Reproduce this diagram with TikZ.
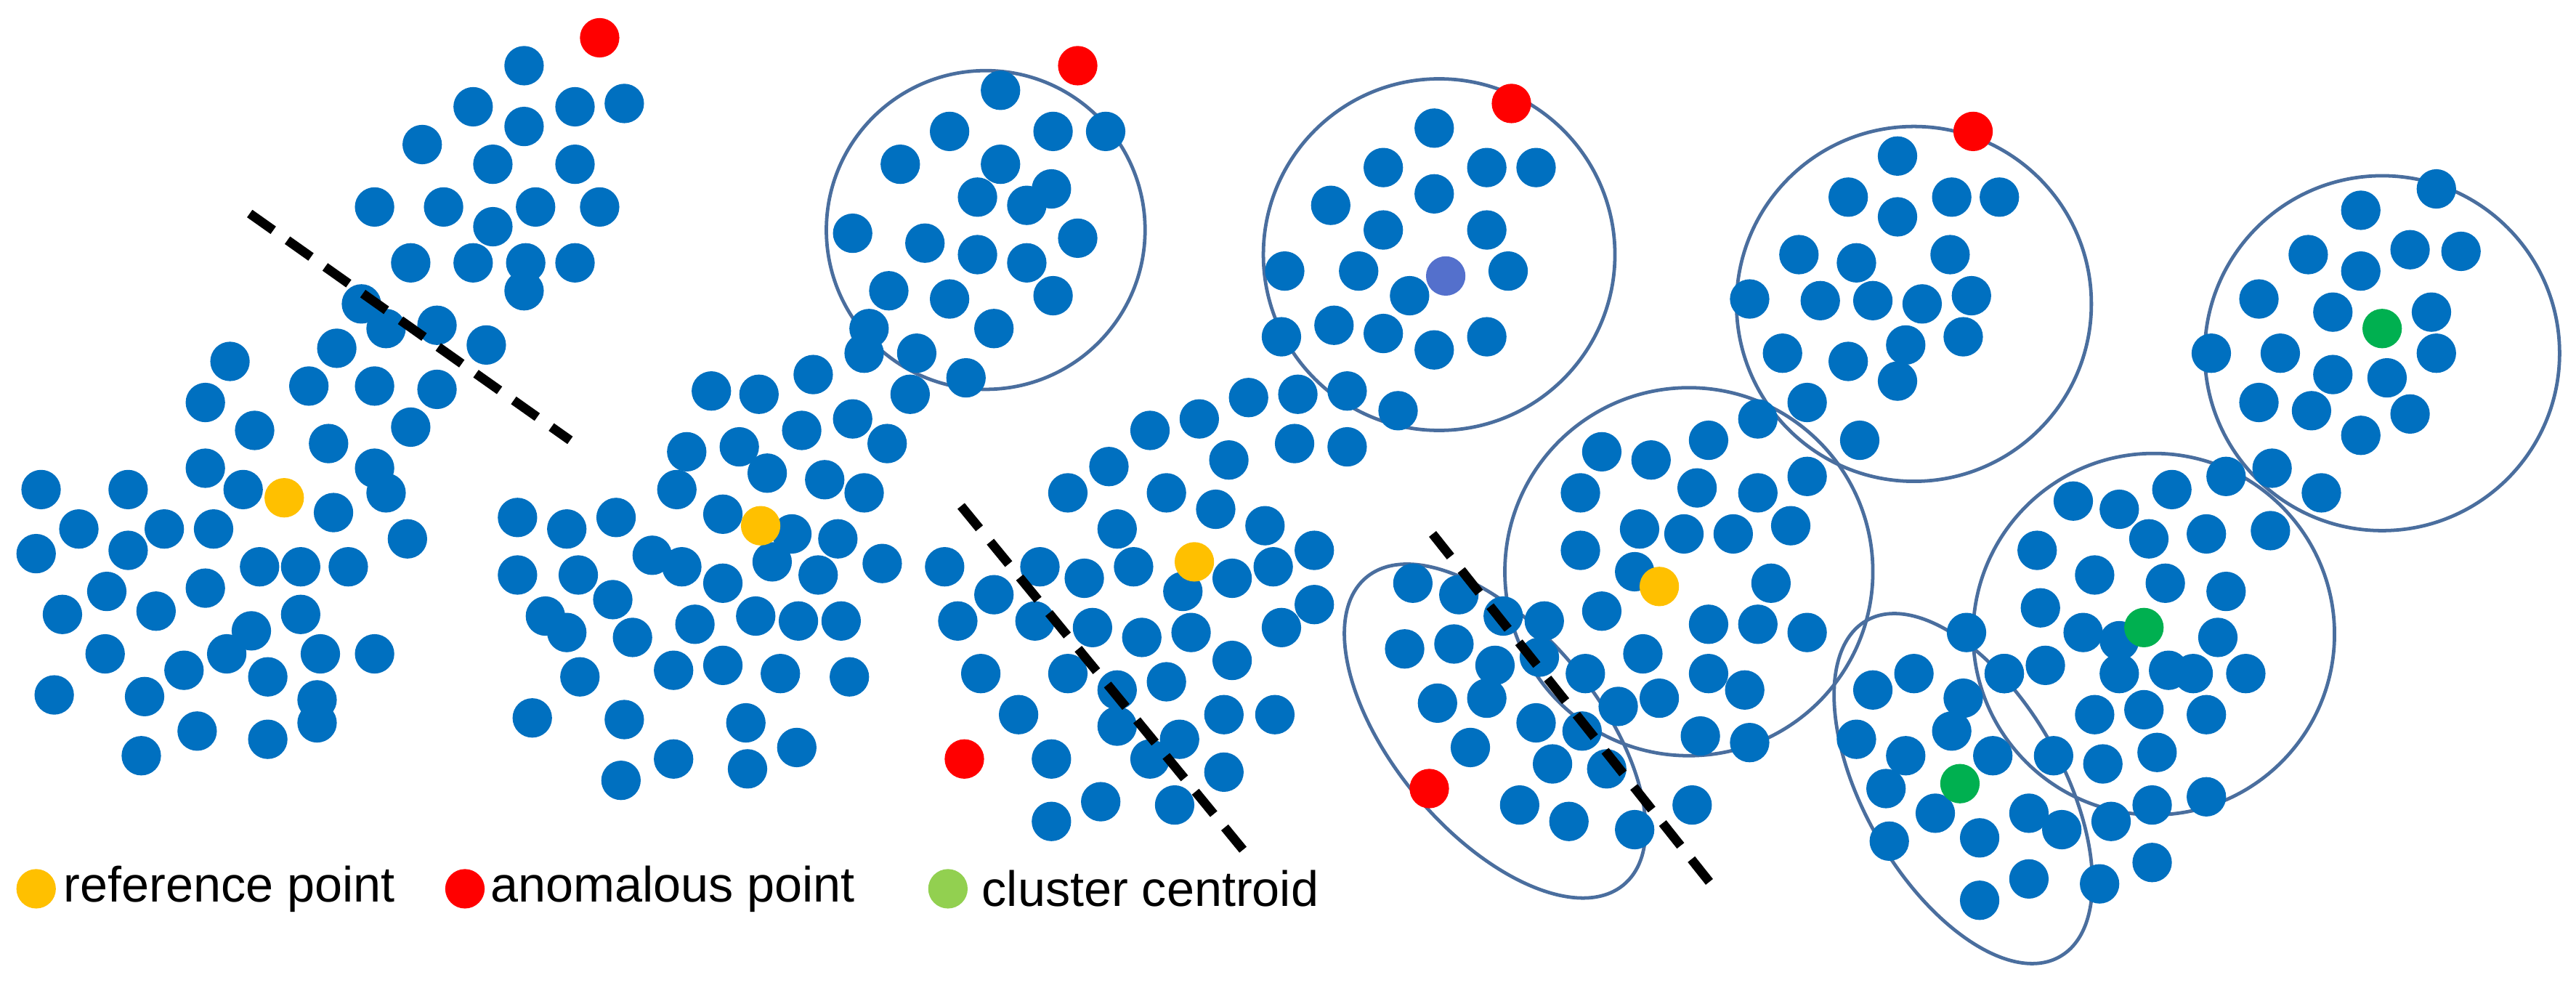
\documentclass[tikz,border=0pt]{standalone}
\usepackage{fontspec}
\setmainfont{Liberation Sans}
\usetikzlibrary{positioning}
\definecolor{ptblue}{HTML}{0070C0}
\definecolor{ptred}{HTML}{FF0000}
\definecolor{ptyellow}{HTML}{FFC000}
\definecolor{ptgreen}{HTML}{00B050}
\definecolor{lgreen}{HTML}{92D050}
\definecolor{ptpurple}{HTML}{5470CC}
\definecolor{ring}{HTML}{4A6E9E}
\tikzset{
  pt/.style={fill=ptblue},
  cut/.style={line width=1.6pt, dash pattern=on 5pt off 3pt},
  bound/.style={draw=ring, line width=0.6pt},
}
\newcommand{\ptcloud}[2]{\foreach \p in {#2} \fill[#1] \p circle (12);}
\begin{document}
\begin{tikzpicture}[x=0.1mm, y=-0.1mm]
\useasboundingbox (0,0) rectangle (1568,601);
% panel 1
\ptcloud{pt}{(319,40),(288,65),(350,65),(380,63),(319,77),(257,88),(300,100),(350,100),(228,126),(270,126),(326,126),(365,126),(300,138),(250,160),(288,160),(320,160),(350,160),(319,177),(220,185),(235,200),(266,198),(205,212),(296,210),(140,220),(188,235),(228,235),(125,245),(266,237),(155,262),(250,260),(200,270),(125,285),(228,285),(25,298),(78,298),(148,298),(235,300),(203,312),(48,322),(100,322),(130,322),(22,337),(78,335),(248,328),(158,345),(183,345),(212,345),(125,358),(65,360),(95,372),(38,374),(153,384),(183,374),(138,398),(112,408),(64,398),(228,398),(195,398),(163,412),(33,423),(88,424),(193,426),(120,445),(163,450),(86,460),(193,440)}
\fill[ptyellow] (173,303) circle (12);
\fill[ptred] (365,23) circle (12);
\draw[cut] (152,130) -- (347,268);
% panel 2
\draw[bound] (600,140) circle (97);
\ptcloud{pt}{(609,55),(641,80),(673,80),(578,80),(548,100),(609,100),(640,115),(595,120),(625,125),(519,142),(656,145),(563,148),(595,155),(625,160),(541,177),(578,182),(641,180),(605,200),(558,215),(529,200),(588,230)}
\fill[ptred] (656,40) circle (12);
\ptcloud{pt}{(526,215),(495,228),(462,240),(433,238),(554,240),(519,255),(488,262),(450,272),(540,270),(418,275),(502,292),(467,288),(412,298),(526,300),(315,315),(345,322),(375,315),(397,338),(440,313),(482,325),(510,328),(537,343),(315,350),(352,350),(373,365),(415,345),(440,355),(470,342),(498,350),(423,380),(385,388),(460,375),(486,378),(512,378),(353,412),(410,408),(440,405),(475,410),(517,412),(324,437),(380,438),(410,462),(454,440),(485,455),(378,475),(455,468),(345,385),(332,375)}
\fill[ptyellow] (463,320) circle (12);
% panel 3
\draw[bound] (876,155) circle (107);
\ptcloud{pt}{(873,78),(842,102),(905,102),(935,102),(873,118),(810,125),(842,140),(905,140),(918,165),(782,165),(827,165),(858,180),(812,198),(842,203),(873,213),(905,205),(780,205)}
\fill[ptpurple] (880,168) circle (12);
\fill[ptred] (920,63) circle (12);
\ptcloud{pt}{(851,250),(820,238),(790,240),(760,242),(730,255),(788,270),(820,272),(700,262),(675,284),(748,280),(710,300),(680,322),(650,300),(740,310),(770,320),(800,335),(575,345),(605,362),(633,345),(660,352),(690,345),(720,360),(750,352),(775,345),(800,368),(583,378),(630,378),(665,382),(695,388),(725,385),(750,402),(780,382),(597,410),(650,410),(680,420),(710,415),(620,435),(680,442),(718,450),(745,435),(776,435),(640,462),(670,488),(700,462),(640,500),(715,490),(745,470)}
\fill[ptyellow] (727,342) circle (12);
\fill[ptred] (587,462) circle (12);
\draw[cut] (585,308) -- (763,525);
% panel 4
\draw[bound] (1165,185) circle (108);
\draw[bound] (1028,348) circle (112);
\draw[bound, rotate around={-50:(910,445)}] (910,445) ellipse (122 and 62);
\ptcloud{pt}{(1155,95),(1125,120),(1188,120),(1217,120),(1155,132),(1095,155),(1130,160),(1187,155),(1200,180),(1065,182),(1108,183),(1140,183),(1170,185),(1085,215),(1125,220),(1160,210),(1195,205),(1100,245),(1132,268),(1155,232)}
\fill[ptred] (1201,80) circle (12);
\ptcloud{pt}{(1070,255),(1040,268),(1005,280),(975,275),(1100,290),(1070,300),(1033,297),(998,322),(962,300),(1055,325),(1090,320),(1025,325),(962,335),(995,348),(1078,355),(940,378),(975,372),(1000,398),(1040,380),(1070,380),(1100,385),(1010,425),(1040,410),(1062,420),(1035,448),(1065,452),(860,355),(888,362),(915,375),(855,395),(885,392),(910,405),(937,400),(965,410),(875,428),(905,425),(935,440),(963,445),(895,455),(945,465),(978,468),(925,490),(955,500),(995,505),(1030,490),(985,430)}
\fill[ptyellow] (1010,357) circle (12);
\fill[ptred] (870,480) circle (12);
\draw[cut] (872,325) -- (1047,545);
% panel 5
\draw[bound] (1450,215) circle (108);
\draw[bound] (1311,386) circle (110);
\draw[bound, rotate around={-60:(1195,480)}] (1195,480) ellipse (118 and 60);
\ptcloud{pt}{(1483,115),(1437,128),(1405,155),(1467,152),(1498,153),(1437,165),(1375,182),(1420,190),(1480,190),(1346,215),(1388,215),(1420,228),(1453,230),(1483,215),(1375,245),(1407,250),(1437,265),(1467,252),(1383,285),(1413,300)}
\fill[ptgreen] (1450,200) circle (12);
\ptcloud{pt}{(1355,290),(1322,298),(1290,310),(1262,305),(1382,323),(1343,325),(1308,328),(1240,335),(1275,350),(1318,355),(1355,360),(1242,370),(1290,390),(1268,385),(1320,408),(1350,388),(1220,410),(1245,405),(1290,410),(1335,410),(1367,410),(1275,435),(1305,432),(1343,435),(1250,460),(1280,465),(1313,458),(1343,485),(1310,490),(1285,500),(1310,525)}
\fill[ptgreen] (1305,382) circle (12);
\ptcloud{pt}{(1197,385),(1140,420),(1165,410),(1195,425),(1220,410),(1130,450),(1160,460),(1188,445),(1213,460),(1148,480),(1178,495),(1205,510),(1235,495),(1150,512),(1255,505),(1235,535),(1278,538),(1205,548)}
\fill[ptgreen] (1193,477) circle (12);
% legend
\fill[ptyellow] (22,541) circle (12);
\node[anchor=west, font=\fontsize{8.6}{10}\selectfont, inner sep=0] (lref) at (38,541) {reference point};
\fill[ptred] (283,541) circle (12);
\node[anchor=west, font=\fontsize{8.6}{10}\selectfont, inner sep=0] (lano) at (298,541) {anomalous point};
\fill[lgreen] (577,541) circle (12);
\node[anchor=west, font=\fontsize{8.6}{10}\selectfont, inner sep=0] (lcen) at (597,541) {cluster centroid};
\end{tikzpicture}
\end{document}
